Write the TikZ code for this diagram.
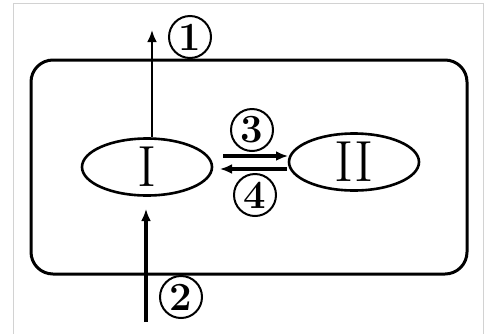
\documentclass[tikz,border=0pt]{standalone}
\usetikzlibrary{shapes.geometric,arrows.meta}
\begin{document}
\begin{tikzpicture}[x=1pt,y=-1pt,
  ln/.style={line width=3pt,line cap=round},
  arr/.style={line width=2.4pt,-{Latex[length=12pt,width=10pt]}},
  oval/.style={draw,ellipse,line width=2.6pt,inner sep=0pt,minimum width=130pt,minimum height=57pt,font=\fontsize{58}{58}\selectfont},
  circ/.style={draw,circle,line width=2pt,inner sep=0pt,minimum size=42pt,font=\fontsize{40}{40}\selectfont\bfseries}]
\useasboundingbox (0,0) rectangle (489,333);
\draw[gray!35,line width=1pt] (13,336) -- (13,3) -- (483,3) -- (483,336);
\node[draw,ln,rounded corners=22pt,minimum width=436pt,minimum height=214pt] (cell) at (249,167) {};
\node[oval] (e1) at (147,167) {I};
\node[oval] (e2) at (354,162) {II};
\coordinate (t1) at (152,30);
\draw[arr] (t1 |- e1.north) -- (t1);
\node[circ] (n1) at (190,37) {1};
\coordinate (b2) at (146,322);
\coordinate (b2t) at (146,209);
\draw[arr,line width=3.4pt] (b2) -- (b2t);
\node[circ] (n2) at (181,297) {2};
\coordinate (a3s) at (223,156);
\coordinate (a3e) at (288,156);
\coordinate (a4s) at (287,169);
\coordinate (a4e) at (220,169);
\draw[arr,line width=3.4pt] (a3s) -- (a3e);
\draw[arr,line width=3.4pt] (a4s) -- (a4e);
\node[circ] (n3) at (252,130) {3};
\node[circ] (n4) at (255,195) {4};
\end{tikzpicture}
\end{document}
